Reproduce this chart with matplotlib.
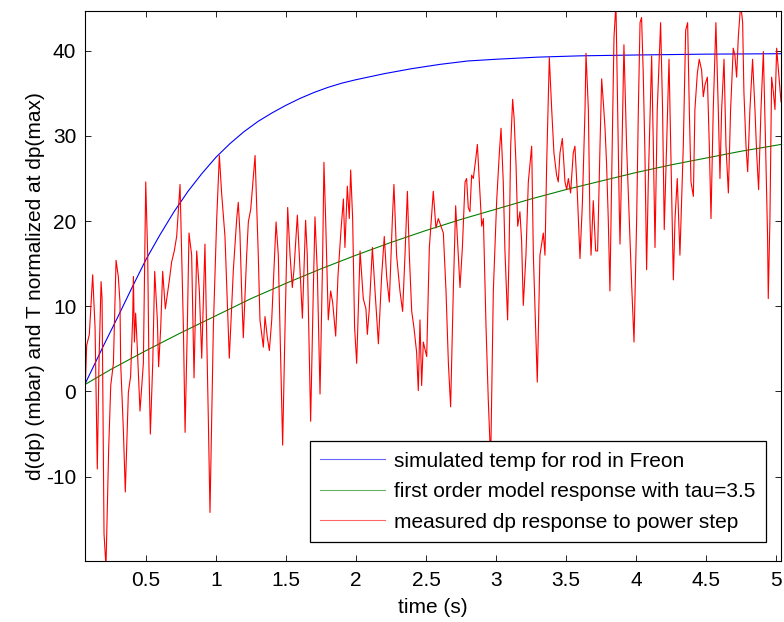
import numpy as np
import matplotlib
matplotlib.use('Agg')
import matplotlib.pyplot as plt

plt.rcParams['font.family'] = ['Liberation Sans', 'DejaVu Sans']
plt.rcParams['font.size'] = 15

####################################
# Donnees
####################################
# simulated temp for rod in Freon
sim_t = [0.062, 0.2, 0.3, 0.4, 0.5, 0.6, 0.7, 0.8, 0.9, 1.0, 1.1, 1.2, 1.3, 1.4,
         1.5, 1.6, 1.7, 1.8, 1.9, 2.0, 2.2, 2.4, 2.6, 2.8, 3.0, 3.3, 3.6, 4.0,
         4.5, 5.036]
sim_y = [0.8, 5.5, 8.8, 12.2, 15.5, 18.4, 21.1, 23.5, 25.6, 27.5, 29.1, 30.5,
         31.7, 32.7, 33.6, 34.4, 35.1, 35.7, 36.2, 36.6, 37.3, 37.9, 38.4, 38.8,
         39.0, 39.25, 39.4, 39.5, 39.6, 39.65]

# first order model, tau=3.5
mod_t = [0.062, 0.25, 0.5, 0.75, 1.0, 1.25, 1.5, 1.75, 2.0, 2.25, 2.5, 2.75,
         3.0, 3.25, 3.5, 3.75, 4.0, 4.25, 4.5, 4.75, 5.036]
mod_y = [0.8, 2.6, 4.8, 6.9, 8.9, 10.9, 12.7, 14.4, 16.0, 17.5, 18.9, 20.2,
         21.4, 22.6, 23.7, 24.7, 25.7, 26.6, 27.4, 28.2, 29.0]

# measured dp response
dp_t = [0.062, 0.076, 0.095, 0.119, 0.136, 0.152, 0.164, 0.179, 0.186, 0.200,
        0.214, 0.233, 0.248, 0.267, 0.286, 0.302, 0.314, 0.319, 0.338, 0.352,
        0.374, 0.390, 0.405, 0.410, 0.417, 0.426, 0.438, 0.457, 0.481, 0.498,
        0.512, 0.521, 0.531, 0.548, 0.562, 0.581, 0.590, 0.605, 0.619, 0.638,
        0.648, 0.667, 0.683, 0.702, 0.719, 0.743, 0.767, 0.779, 0.795, 0.807,
        0.826, 0.843, 0.862, 0.881, 0.898, 0.921, 0.945, 0.957, 0.981, 1.005,
        1.024, 1.040, 1.064, 1.095, 1.124, 1.148, 1.159, 1.171, 1.183, 1.195,
        1.219, 1.231, 1.248, 1.279, 1.302, 1.314, 1.338, 1.350, 1.367, 1.381,
        1.398, 1.429, 1.445, 1.457, 1.476, 1.493, 1.512, 1.529, 1.545, 1.557,
        1.581, 1.595, 1.617, 1.640, 1.652, 1.676, 1.695, 1.707, 1.724, 1.743,
        1.762, 1.771, 1.783, 1.802, 1.819, 1.833, 1.855, 1.871, 1.893, 1.910,
        1.921, 1.938, 1.952, 1.962, 1.976, 1.990, 2.005, 2.029, 2.052, 2.071,
        2.081, 2.095, 2.117, 2.136, 2.160, 2.183, 2.202, 2.219, 2.238, 2.260,
        2.271, 2.290, 2.314, 2.333, 2.350, 2.367, 2.381, 2.398, 2.414, 2.433,
        2.445, 2.457, 2.469, 2.481, 2.505, 2.524, 2.552, 2.571, 2.588, 2.605,
        2.624, 2.643, 2.660, 2.676, 2.695, 2.712, 2.731, 2.743, 2.760, 2.779,
        2.790, 2.802, 2.814, 2.826, 2.838, 2.857, 2.867, 2.881, 2.898, 2.910,
        2.929, 2.945, 2.962, 2.981, 3.005, 3.024, 3.036, 3.052, 3.064, 3.083,
        3.093, 3.105, 3.119, 3.129, 3.143, 3.155, 3.171, 3.183, 3.195, 3.214,
        3.231, 3.255, 3.267, 3.279, 3.295, 3.314, 3.338, 3.350, 3.362, 3.381,
        3.398, 3.414, 3.433, 3.445, 3.457, 3.474, 3.493, 3.505, 3.517, 3.533,
        3.552, 3.564, 3.581, 3.600, 3.617, 3.636, 3.643, 3.660, 3.671, 3.679,
        3.695, 3.712, 3.726, 3.743, 3.755, 3.767, 3.779, 3.790, 3.802, 3.814,
        3.826, 3.843, 3.857, 3.869, 3.881, 3.886, 3.898, 3.914, 3.933, 3.952,
        3.969, 3.986, 4.005, 4.017, 4.029, 4.040, 4.052, 4.064, 4.076, 4.088,
        4.112, 4.124, 4.136, 4.152, 4.176, 4.190, 4.202, 4.219, 4.236, 4.248,
        4.267, 4.279, 4.295, 4.305, 4.314, 4.338, 4.355, 4.369, 4.381, 4.393,
        4.410, 4.421, 4.438, 4.452, 4.469, 4.481, 4.493, 4.510, 4.524, 4.536,
        4.552, 4.571, 4.588, 4.600, 4.612, 4.629, 4.643, 4.660, 4.676, 4.695,
        4.707, 4.719, 4.731, 4.748, 4.762, 4.771, 4.786, 4.798, 4.814, 4.833,
        4.850, 4.862, 4.876, 4.893, 4.910, 4.926, 4.940, 4.945, 4.957, 4.969,
        4.981, 4.993, 5.005, 5.036]
dp_y = [-1.4, 5.4, 6.7, 13.7, 7.5, -9.1, 3.3, 12.9, 10.9, -16.7,
        -20.6, -6.9, 0.7, 3.3, 15.4, 13.5, 10.5, 3.3, -4.4, -11.8,
        -0.1, 1.8, 8.8, 13.5, 5.8, 9.2, 5.0, -2.3, 3.3, 24.6,
        16.0, 2.9, -5.0, 3.3, 14.1, 8.4, 2.9, 7.5, 14.1, 9.7,
        10.9, 13.1, 15.2, 16.5, 18.2, 24.3, 7.5, -4.8, 7.5, 18.6,
        16.0, 1.6, 16.5, 11.8, 3.9, 17.3, -3.1, -14.2, 7.5, 20.3,
        27.7, 23.3, 18.2, 3.9, 14.3, 20.3, 22.2, 18.6, 11.8, 6.3,
        16.0, 19.9, 21.4, 27.7, 16.0, 8.4, 5.2, 8.8, 6.3, 4.8,
        8.4, 19.9, 16.0, 7.5, -6.3, 7.5, 21.6, 16.0, 12.2, 14.3,
        20.7, 16.0, 8.6, 20.1, 16.0, -3.5, 11.8, 20.5, 13.9, -0.3,
        16.0, 26.9, 20.3, 8.4, 11.8, 10.5, 6.5, 13.5, 19.0, 22.6,
        16.9, 24.1, 20.3, 26.0, 20.3, 7.5, 3.3, 16.5, 10.9, 9.7,
        6.7, 9.7, 16.9, 11.8, 5.6, 13.5, 18.2, 13.5, 10.5, 20.3,
        24.3, 16.0, 11.8, 9.4, 16.0, 23.5, 16.0, 9.4, 7.5, 4.6,
        0.1, 8.4, 0.7, 5.8, 4.1, 16.9, 23.5, 19.2, 20.3, 19.5,
        18.6, 11.8, 3.3, -1.8, 11.8, 21.8, 16.0, 12.2, 16.9, 24.6,
        25.0, 21.6, 21.1, 25.4, 25.0, 27.5, 29.0, 24.6, 19.4, 20.3,
        7.5, -1.0, -8.2, 11.8, 22.4, 28.0, 30.9, 24.6, 16.5, 8.4,
        16.0, 28.8, 34.3, 32.2, 26.7, 19.4, 21.1, 17.7, 10.1, 16.0,
        24.6, 28.8, 16.0, 9.7, 1.1, 16.0, 18.6, 16.0, 26.7, 39.2,
        33.1, 28.0, 25.4, 24.6, 28.0, 29.7, 24.6, 23.7, 25.0, 23.3,
        28.0, 28.8, 23.3, 15.6, 22.0, 33.1, 39.7, 33.1, 20.3, 16.0,
        22.4, 16.5, 16.5, 28.8, 36.7, 33.9, 30.9, 26.7, 20.3, 11.8,
        24.6, 41.6, 45.5, 33.1, 21.1, 17.3, 26.7, 40.7, 28.8, 20.3,
        12.6, 5.8, 20.3, 33.1, 43.3, 43.9, 37.3, 28.0, 14.3, 24.6,
        39.4, 28.8, 16.9, 33.1, 43.3, 33.1, 19.0, 28.8, 39.0, 28.8,
        13.1, 20.3, 25.0, 20.3, 16.0, 28.8, 42.4, 43.3, 33.1, 24.6,
        22.9, 33.1, 37.3, 39.0, 37.7, 34.6, 36.0, 36.9, 28.8, 20.3,
        33.1, 43.3, 33.1, 25.0, 33.1, 39.0, 28.8, 23.3, 33.1, 40.3,
        39.4, 36.9, 41.6, 45.5, 43.3, 35.2, 28.8, 25.8, 33.1, 39.0,
        33.1, 28.0, 23.7, 33.1, 39.9, 28.8, 18.2, 10.9, 20.3, 36.9,
        35.2, 33.1, 40.3, 34.0]

labels = ['simulated temp for rod in Freon',
          'first order model response with tau=3.5',
          'measured dp response to power step']

####################################
# Trace
####################################
fig = plt.figure(figsize=(7.84, 6.22), dpi=100)
ax = fig.add_axes([84.7/784, 1-561/622, (781-84.7)/784, (561-10.7)/622])

ax.plot(sim_t, sim_y, color='#0000ff', linewidth=0.8, label=labels[0])
ax.plot(mod_t, mod_y, color='#008000', linewidth=0.8, label=labels[1])
ax.plot(dp_t, dp_y, color='#ff0000', linewidth=0.8, label=labels[2])

ax.set_xlim(0.062, 5.036)
ax.set_ylim(-19.9, 44.7)
ax.set_xticks([0.5, 1, 1.5, 2, 2.5, 3, 3.5, 4, 4.5, 5])
ax.set_xticklabels(['0.5', '1', '1.5', '2', '2.5', '3', '3.5', '4', '4.5', '5'])
ax.set_yticks([-10, 0, 10, 20, 30, 40])
ax.set_yticklabels(['-10', '0', '10', '20', '30', '40'])

ax.tick_params(direction='in', top=True, right=True, length=4.5, width=0.6,
               labelsize=15)
ax.tick_params(axis='x', pad=7)
ax.tick_params(axis='y', pad=6)
for s in ax.spines.values():
    s.set_linewidth(0.8)

ax.set_xlabel('time (s)', fontsize=15, labelpad=6)
ax.set_ylabel('d(dp) (mbar) and T normalized at dp(max)', fontsize=15, labelpad=1)

leg = ax.legend(loc='lower right', bbox_to_anchor=(0.978, 0.0345),
                borderaxespad=0, fancybox=False, framealpha=1,
                edgecolor='black', fontsize=15, handlelength=3.1,
                handletextpad=0.45, borderpad=0.5, labelspacing=0.55)
leg.get_frame().set_linewidth(0.9)
for line in leg.get_lines():
    line.set_alpha(0.6)

plt.savefig('out.png', dpi=100)
